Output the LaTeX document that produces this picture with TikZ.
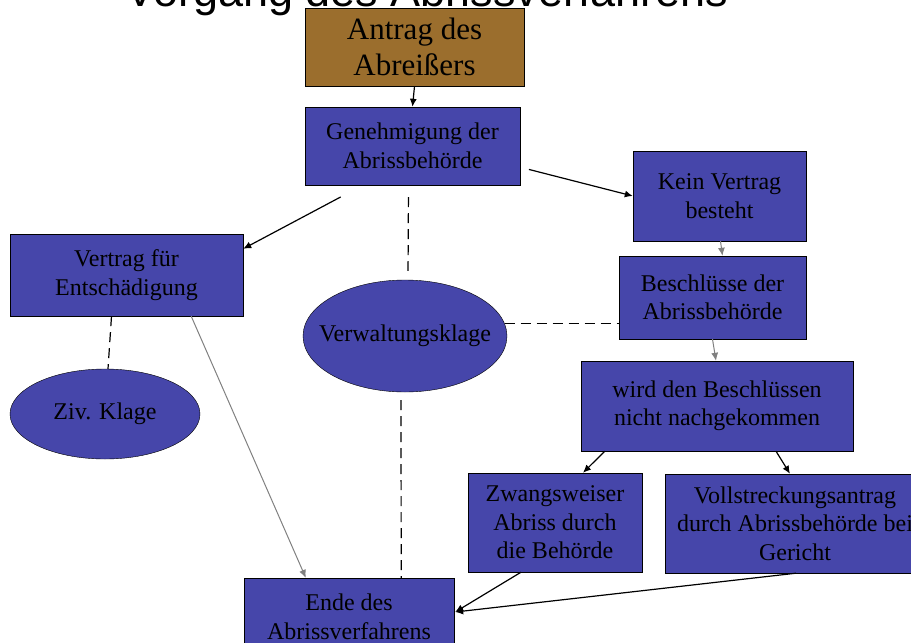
\documentclass[tikz,border=0pt]{standalone}
\usepackage{fontspec}
\setmainfont{Liberation Serif}
\newfontfamily\titlefont{Liberation Sans}
\usetikzlibrary{arrows.meta,calc,shapes.geometric}

\definecolor{boxblue}{RGB}{70,70,170}
\definecolor{antragbrown}{RGB}{155,110,45}

\tikzset{
  stepbox/.style={rectangle, draw=black, fill=boxblue, inner sep=0pt, align=center, font=\fontsize{24}{28.5}\selectfont},
  oval/.style={ellipse, draw=black, fill=boxblue, inner sep=-30pt, font=\fontsize{24}{28.5}\selectfont},
  arr/.style={-{Latex[length=8pt,width=7pt]}, line width=1.2pt},
  grayarr/.style={-{Latex[length=8pt,width=7pt]}, gray, line width=1pt},
  dashedlink/.style={line width=1.2pt, dash pattern=on 10pt off 6pt},
}

\begin{document}
\begin{tikzpicture}[x=1pt, y=-1pt]
    \useasboundingbox (0,0) rectangle (911,643);
    \clip (0,0) rectangle (911,643);

    % Title (cut off at the top)
    \node[anchor=base, inner sep=0pt, font={\titlefont\fontsize{45}{50}\selectfont}] (title) at (427,6) {Vorgang des Abrissverfahrens};

    % Boxes
    \node[stepbox, fill=antragbrown, minimum width=219pt, minimum height=78pt, font=\fontsize{31}{36}\selectfont] (antrag) at (414.5,47) {Antrag des\\Abreißers};
    \node[stepbox, minimum width=215pt, minimum height=78pt] (genehm) at (412.5,146) {Genehmigung der\\Abrissbehörde};
    \node[stepbox, minimum width=173pt, minimum height=90pt] (kein) at (719.5,196) {Kein Vertrag\\besteht};
    \node[stepbox, minimum width=233pt, minimum height=82pt] (vertrag) at (126.5,275) {Vertrag für\\Entschädigung};
    \node[stepbox, minimum width=187pt, minimum height=83pt] (beschl) at (712.5,297.5) {Beschlüsse der\\Abrissbehörde};
    \node[stepbox, minimum width=272pt, minimum height=90pt] (wird) at (717,406) {wird den Beschlüssen\\nicht nachgekommen};
    \node[stepbox, minimum width=174pt, minimum height=99pt] (zwang) at (555,522.5) {Zwangsweiser\\Abriss durch\\die Behörde};
    \node[stepbox, minimum width=260pt, minimum height=99pt] (voll) at (795,523.5) {Vollstreckungsantrag\\durch Abrissbehörde bei\\Gericht};
    \node[stepbox, minimum width=210pt, minimum height=78pt] (ende) at (349,617) {Ende des\\Abrissverfahrens};

    % Ellipses
    \node[oval, minimum width=204pt, minimum height=112pt] (verwalt) at (405,336) {Verwaltungsklage};
    \node[oval, minimum width=190pt, minimum height=90pt] (ziv) at (105,414) {Ziv. Klage};

    % Arrows
    \draw[arr] (antrag.south) -- (genehm.north);
    \draw[arr, shorten <=25pt] ($(genehm.south west)+(58,0)$) -- ($(vertrag.north east)+(0,15)$);
    \draw[arr, shorten <=9pt] ($(genehm.south east)+(0,-18)$) -- (kein.west);
    \draw[grayarr] ($(kein.south)+(1,0)$) -- ($(beschl.north)+(10,0)$);
    \draw[grayarr] (beschl.south) -- ($(wird.north)+(-1,0)$);
    \draw[grayarr] ($(vertrag.south east)+(-52,0)$) -- ($(ende.north west)+(62,0)$);
    \draw[arr] ($(wird.south west)+(24,0)$) -- ($(zwang.north)+(28,0)$);
    \draw[arr] ($(wird.south)+(59,0)$) -- ($(voll.north)+(-5,0)$);
    \draw[arr] ($(zwang.south)+(-34,0)$) -- ($(ende.east)+(1,-5)$);
    \draw[arr] ($(voll.south)+(1,0)$) -- ($(ende.east)+(1,-5)$);

    % Dashed links
    \draw[dashedlink, shorten <=12pt, shorten >=9pt] ($(genehm.south)+(-4,0)$) -- ($(verwalt.north)+(3,0)$);
    \draw[dashedlink] (verwalt.7) -- (verwalt.7 -| beschl.west);
    \draw[dashedlink] ($(vertrag.south)+(-15,0)$) -- ($(ziv.north)+(3,0)$);
    \draw[dashedlink, shorten <=8pt] ($(verwalt.south)+(-4,0)$) -- ($(ende.north east)+(-53,0)$);
\end{tikzpicture}
\end{document}
